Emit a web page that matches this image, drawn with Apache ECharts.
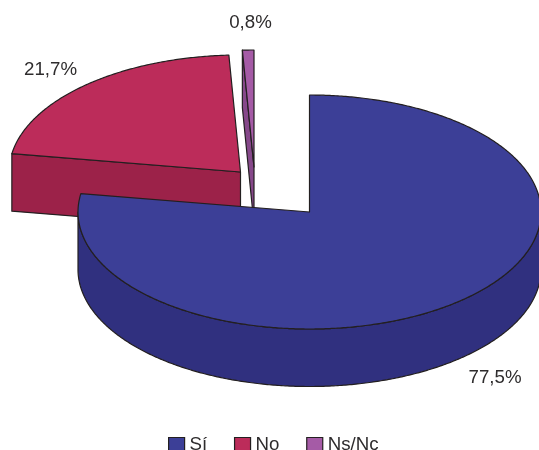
<!DOCTYPE html>
<html>
<head>
<meta charset="utf-8">
<style>html,body{margin:0;padding:0;background:#fff}#c{width:539px;height:450px}</style>
<script src="https://cdn.jsdelivr.net/npm/echarts@6/dist/echarts.min.js"></script>
</head>
<body>
<div id="c"></div>
<script>
var categories = ['Sí', 'No', 'Ns/Nc'];
var shares = [77.5, 21.7, 0.8];
var shareLabels = ['77,5%', '21,7%', '0,8%'];

var topColors = ['#3c3f97', '#bc2c5a', '#a55ba6'];
var sideColors = ['#30307f', '#9c2249', '#86488a'];
var origins = [[309.5, 212], [240.5, 172], [254, 167]];
var labelAt = [[495, 378], [50.5, 70], [250.5, 23]];
var RX = 231.5, RY = 117, DEPTH = 57.5, INK = '#231f20', TEXT = '#2e2c2d';

var total = shares.reduce(function (a, b) { return a + b; }, 0);
function startOf(i) {
  var s = 0;
  for (var k = 0; k < i; k++) s += shares[k];
  return s / total * 360;
}
function pt(o, deg, dz) {
  var r = deg * Math.PI / 180;
  return [o[0] + RX * Math.sin(r), o[1] - RY * Math.cos(r) + dz];
}
function arc(o, a, b, dz) {
  var pts = [], n = Math.max(2, Math.ceil((b - a) * 2));
  for (var k = 0; k <= n; k++) pts.push(pt(o, a + (b - a) * k / n, dz));
  return pts;
}
function poly(points, fill) {
  return { type: 'polygon', shape: { points: points },
    style: { fill: fill, stroke: INK, lineWidth: 1.2, lineJoin: 'round' } };
}
function render(i) {
  return function (params, api) {
    var a = startOf(i), b = a + api.value(0) / total * 360, o = origins[i];
    var kids = [];
    var side = sideColors[i];
    if (a > 180) {
      var e = pt(o, a, 0), e2 = pt(o, a, DEPTH);
      kids.push(poly([o, e, e2, [o[0], o[1] + DEPTH]], side));
    }
    if (b < 180) {
      var f = pt(o, b, 0), f2 = pt(o, b, DEPTH);
      kids.push(poly([o, f, f2, [o[0], o[1] + DEPTH]], side));
    }
    var wa = Math.max(a, 90), wb = Math.min(b, 270);
    if (wb > wa) {
      kids.push(poly(arc(o, wa, wb, 0).concat(arc(o, wa, wb, DEPTH).reverse()), side));
    }
    kids.push(poly([o].concat(arc(o, a, b, 0)), topColors[i]));
    kids.push({ type: 'text', style: {
      text: shareLabels[i], x: labelAt[i][0], y: labelAt[i][1],
      align: 'center', verticalAlign: 'middle',
      fontFamily: 'Liberation Sans', fontSize: 18.7, fill: TEXT } });
    return { type: 'group', children: kids };
  };
}
// drawn back to front: the smallest slice first
var series = categories.map(function (name, i) {
  return {
    type: 'custom', name: name, coordinateSystem: 'none',
    z: 10 - i + (i === 0 ? 5 : 0),
    itemStyle: { color: topColors[i] },
    data: [[shares[i]]],
    renderItem: render(i),
    silent: true
  };
});
var chart = echarts.init(document.getElementById('c'));
chart.setOption({
  animation: false,
  backgroundColor: '#fff',
  legend: {
    data: categories, left: 168, top: 435, padding: 0,
    itemWidth: 16, itemHeight: 14, itemGap: 26.7, icon: 'rect', itemStyle: { borderColor: INK, borderWidth: 1.2 },
    textStyle: { fontFamily: 'Liberation Sans', fontSize: 18.7, color: TEXT, padding: [0, 0, 0, 0] }
  },
  series: series
});
</script>
</body>
</html>
